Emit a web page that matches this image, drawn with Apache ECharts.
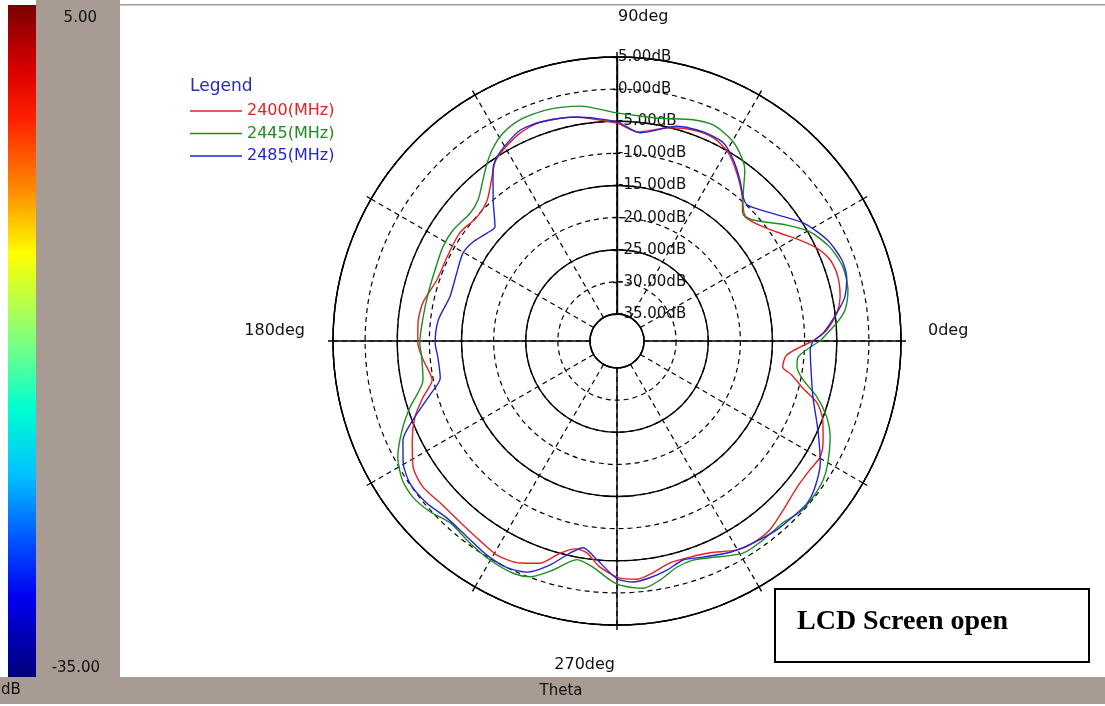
<!DOCTYPE html>
<html><head><meta charset="utf-8">
<script src="https://cdn.jsdelivr.net/npm/echarts@6/dist/echarts.min.js"></script>
<style>html,body{margin:0;padding:0;background:#fff}#c{width:1105px;height:706px}</style>
</head><body><div id="c"></div>
<script>
// ---- data: [gain dB, theta deg] ----
const seriesNames = ['2400(MHz)', '2445(MHz)', '2485(MHz)'];
const red2400 = [[-8.7,0],[-6.5,3],[-4.7,7.3],[-3.8,11.2],[-3.4,16.2],[-3.7,20.8],[-4.9,24.9],[-6.7,28.9],[-9.1,34.3],[-11.1,41.2],[-11.3,45.5],[-9.5,49],[-7.1,54.5],[-5.1,59.6],[-4.2,64.7],[-4.3,70.2],[-5.0,76],[-6.5,84.5],[-5.3,90],[-3.7,101.1],[-3.1,109.4],[-3.5,115],[-4.6,120.8],[-5.5,124.3],[-7.1,127.3],[-9.4,132.7],[-10.1,138.5],[-9.5,145.5],[-9.7,153.7],[-9.6,161.3],[-8.4,168.9],[-8.1,174.8],[-8.2,180.6],[-8.9,185.6],[-9.8,191.9],[-7.8,196.1],[-5.6,200.6],[-3.8,205.8],[-1.9,211.7],[-1.4,217],[-1.9,222.5],[-1.9,229.1],[-1.6,234.6],[-1.0,240.7],[-1.5,246.4],[-2.6,250.9],[-5.0,255],[-6.2,258.6],[-5.9,261.9],[-3.9,265.7],[-2.3,270.7],[-2.0,274.8],[-2.7,278.8],[-3.7,283.4],[-3.7,288.7],[-3.2,293.7],[-1.7,299.9],[-1.3,303.9],[-1.4,309],[-2.3,314.5],[-3.1,320.9],[-3.1,326.2],[-2.8,330.3],[-3.6,334.3],[-4.9,339],[-6.6,342.8],[-9.4,345.8],[-11.5,349],[-13.1,351.1],[-12.7,355.3],[-8.7,360]];
const green2445 = [[-7.6,0],[-4.9,4.7],[-3.4,7.7],[-2.4,12.4],[-2.2,18.1],[-3.0,23.8],[-4.7,29.5],[-7.2,34.3],[-10.9,41.7],[-11.3,44.5],[-9.8,48.2],[-6.0,53.2],[-4.7,55.7],[-3.2,60.2],[-2.4,66],[-2.8,71.1],[-3.9,79],[-4.0,84],[-3.7,90],[-2.2,98.9],[-1.6,106.9],[-1.6,113.7],[-2.3,118.7],[-3.5,122.7],[-4.9,126.1],[-6.6,129.8],[-8.4,134.6],[-8.9,138.9],[-8.4,145.9],[-8.4,151.6],[-8.8,158.7],[-8.9,165.7],[-8.8,172.9],[-8.5,180.6],[-8.7,184.7],[-8.4,191.4],[-5.4,197.7],[-3.0,202.5],[-0.6,207.9],[0.6,212.9],[0.8,217.4],[0.2,222.4],[-0.8,227.5],[-0.3,234],[0.2,239.9],[0.4,245.9],[-0.1,249.8],[-2.2,254.4],[-4.6,259.6],[-3.8,263.9],[-2.0,268.3],[-1.2,270.7],[-0.5,276],[-1.4,280.2],[-2.8,284.9],[-3.1,289.1],[-2.5,293.2],[-0.8,300.7],[-0.8,306.3],[-0.9,312.4],[-0.2,317.1],[-0.2,321.5],[-0.5,326],[-1.3,330],[-2.8,335.7],[-4.5,340.1],[-6.9,344.4],[-9.6,348.2],[-10.9,351.8],[-10.9,354.9],[-7.6,360]];
const blue2485 = [[-8.7,0],[-7.1,2.2],[-4.7,7.3],[-3.1,10.9],[-2.1,15.5],[-2.0,19.8],[-2.9,25.7],[-4.9,32.4],[-8.4,40.7],[-9.9,46.3],[-9.4,48.8],[-7.7,52.6],[-5.7,57.3],[-4.2,61.8],[-4.0,67.6],[-4.5,74.4],[-6.6,83.7],[-5.1,90],[-3.8,100.1],[-3.1,109.4],[-3.1,114.7],[-4.0,119.1],[-5.0,123.1],[-6.3,125.9],[-10.0,131.3],[-13.2,136.9],[-12.9,140.3],[-12.0,145.5],[-11.6,150.3],[-12.1,157],[-12.3,165.2],[-11.2,173.3],[-10.9,180.6],[-11.2,185.1],[-11.1,191.8],[-8.9,196.1],[-5.1,201.2],[-2.5,204.8],[-0.9,209.7],[-0.1,214.5],[-0.3,220.4],[-1.0,226.2],[-0.8,232.6],[-0.2,238.7],[0.0,244.1],[-0.6,248.7],[-2.8,253.3],[-5.4,257.5],[-6.6,260.7],[-5.0,264.8],[-2.2,270],[-1.6,273.8],[-2.0,277.9],[-2.7,282.3],[-3.6,286.8],[-3.0,291.7],[-1.9,298.2],[-1.3,303.9],[-0.7,310.2],[-0.5,315],[-0.3,319.5],[-0.9,323.6],[-2.3,329],[-5.0,336.1],[-7.5,344.1],[-8.5,350.1],[-9.1,357.3],[-8.7,360]];
const radialMin = -35, radialMax = 5;          // radial scale (dB)
const angleTicks = [0, 90, 180, 270];          // labelled theta ticks
const colorScale = [5, -35];                   // colour bar end labels

// ---- styles / layout ----
const colors = ['#e32222', '#1f8c1f', '#2424d4'];
const CX = 617, CY = 341, R0 = 27, R1 = 284;
const GRAY = '#a89b94';
const FONT = 'DejaVu Sans';

const chart = echarts.init(document.getElementById('c'));

const hiddenAngle = {axisLine:{show:false}, axisTick:{show:false}, axisLabel:{show:false}, splitLine:{show:false}};
const txt = (text, x, y, align, extra) => ({
  type:'text', z: 20,
  style: Object.assign({text, x, y, fill:'#111', fontSize:16, fontFamily:FONT,
    textAlign:align, align:align, textVerticalAlign:'middle', verticalAlign:'middle'}, extra || {})
});

const angleLabelPos = {
  0:   [CX + R1 + 27, CY - 10, 'left'],
  90:  [CX + 1, CY - R1 - 40, 'left'],
  180: [CX - R1 - 28, CY - 10, 'right'],
  270: [CX - 2, CY + R1 + 40, 'right']
};

const graphics = [
  {type:'rect', z:1, shape:{x:36, y:0, width:84, height:678}, style:{fill:GRAY}},
  {type:'rect', z:1, shape:{x:0, y:677, width:1105, height:27}, style:{fill:GRAY}},
  {type:'rect', z:1, shape:{x:120, y:4, width:985, height:1.5}, style:{fill:GRAY}},
  {type:'rect', z:2, shape:{x:8, y:5, width:28, height:672}, style:{fill:{
    type:'linear', x:0, y:0, x2:0, y2:1, colorStops:[
      {offset:0, color:'#7a0000'},{offset:0.1, color:'#dd0000'},{offset:0.17, color:'#ff2000'},
      {offset:0.28, color:'#ff9000'},{offset:0.37, color:'#ffff00'},{offset:0.5, color:'#80ff80'},
      {offset:0.6, color:'#00ffd0'},{offset:0.7, color:'#00c0ff'},{offset:0.8, color:'#0050ff'},
      {offset:0.88, color:'#0000f0'},{offset:1, color:'#00007a'}]}}},
  txt(colorScale[0].toFixed(2), 97, 18, 'right', {fontSize:15}),
  txt(colorScale[1].toFixed(2), 100, 668, 'right', {fontSize:15}),
  txt('dB', 1, 690, 'left', {fontSize:15}),
  txt('Theta', 561, 691, 'center', {fontSize:15}),
  txt('Legend', 190, 87, 'left', {fill:'#2a2ab8', fontSize:17}),
  {type:'rect', z:20, shape:{x:775, y:589, width:314, height:73}, style:{fill:'#fff', stroke:'#000', lineWidth:2}},
  txt('LCD Screen open', 797, 622, 'left', {fill:'#000', fontSize:28, fontWeight:'bold', fontFamily:'Liberation Serif'})
];
angleTicks.forEach(a => {
  const p = angleLabelPos[a];
  graphics.push(txt(a + 'deg', p[0], p[1], p[2]));
});

const solid = {color:'#000', width:1.4, type:'solid'};
const dashed = {color:'#000', width:1.2, type:[5,4]};

const option = {
  animation: false,
  backgroundColor: '#fff',
  polar: [
    {center:[CX, CY], radius:[R0, R1]},
    {center:[CX, CY], radius:[R0, R1]},
    {center:[CX, CY], radius:[R0, R1]}
  ],
  angleAxis: [
    {polarIndex:0, type:'value', min:0, max:360, interval:30, startAngle:0, clockwise:false,
     axisLine:{show:true, lineStyle:solid}, axisTick:{show:true, length:5, lineStyle:solid},
     axisLabel:{show:false}, splitLine:{show:true, lineStyle:dashed}},
    Object.assign({polarIndex:1, type:'value', min:0, max:360, interval:90, startAngle:90, clockwise:false},
      hiddenAngle, {splitLine:{show:true, lineStyle:solid}}),
    Object.assign({polarIndex:2, type:'value', min:0, max:360, interval:90, startAngle:90, clockwise:false}, hiddenAngle)
  ],
  radiusAxis: [
    {polarIndex:0, type:'value', min:radialMin, max:radialMax, interval:5,
     axisLine:{show:false}, axisTick:{show:false}, axisLabel:{show:false},
     splitLine:{show:true, lineStyle:dashed}},
    {polarIndex:1, type:'value', min:radialMin, max:radialMax, interval:10,
     axisLine:{show:false}, axisTick:{show:false}, axisLabel:{show:false},
     splitLine:{show:true, lineStyle:solid}},
    {polarIndex:2, type:'value', min:radialMin, max:radialMax, interval:5,
     axisLine:{show:true, lineStyle:solid}, axisTick:{show:true, length:4, lineStyle:solid},
     splitLine:{show:false},
     axisLabel:{show:true, margin:-1, align:'left', verticalAlign:'middle', color:'#111',
       fontSize:15, fontFamily:FONT, formatter: v => v.toFixed(2) + 'dB'}}
  ],
  legend: {
    orient:'vertical', left:185, top:98, icon:'rect', itemWidth:52, itemHeight:1.5, itemGap:6.5,
    textStyle:{fontSize:16, fontFamily:FONT},
    data: seriesNames.map((n, i) => ({name:n, textStyle:{color:colors[i]}}))
  },
  graphic: graphics,
  series: [red2400, green2445, blue2485].map((d, i) => ({
    type:'line', name:seriesNames[i], coordinateSystem:'polar', polarIndex:0,
    data:d, symbol:'none', smooth:0.25, z:5,
    lineStyle:{color:colors[i], width:1.4}, itemStyle:{color:colors[i]}
  }))
};
chart.setOption(option);
</script></body></html>
